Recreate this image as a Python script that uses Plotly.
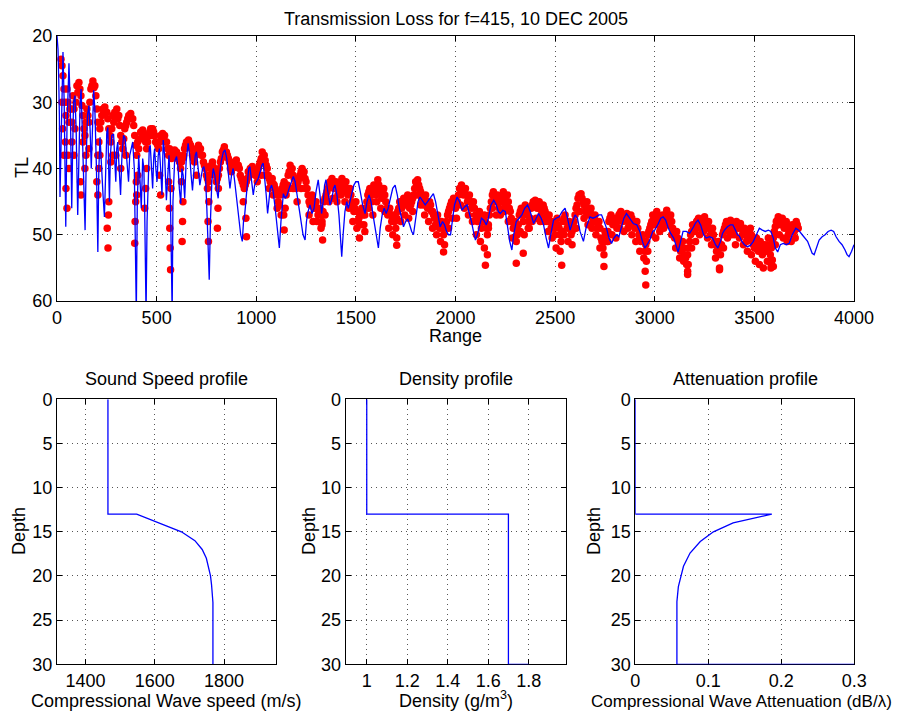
import plotly.graph_objects as go

# ---------------- data: transmission loss ----------------
blue_range = [0, 5, 8, 12, 15, 20, 25, 30, 36, 44, 50, 55, 60, 67, 74, 78, 83, 90, 96, 104,
              110, 116, 121, 128, 135, 141, 147, 153, 160, 166, 172, 178, 184, 190, 198, 205, 210, 216, 224, 231,
              238, 244, 250, 255, 260, 263, 268, 275, 284, 290, 295, 300, 305, 312, 319, 326, 334, 342, 350, 359,
              365, 372, 380, 388, 393, 398, 403, 410, 417, 423, 430, 436, 440, 444, 447, 452, 458, 463, 468, 474,
              480, 486, 490, 496, 502, 508, 514, 520, 527, 533, 540, 549, 556, 562, 568, 573, 578, 582, 590, 600,
              608, 614, 621, 627, 633, 641, 648, 658, 666, 673, 680, 688, 694, 700, 708, 717, 725, 731, 737, 745,
              752, 758, 764, 770, 777, 784, 792, 800, 809, 816, 824, 835, 843, 852, 860, 868, 876, 884, 892, 900,
              908, 915, 922, 930, 936, 942, 948, 955, 962, 968, 976, 985, 992, 1000, 1010, 1020, 1028, 1035, 1042, 1050,
              1057, 1064, 1070, 1077, 1085, 1095, 1105, 1116, 1124, 1130, 1136, 1145, 1155, 1165, 1175, 1186, 1195, 1205, 1215, 1225,
              1235, 1245, 1252, 1260, 1270, 1280, 1290, 1300, 1311, 1320, 1328, 1336, 1343, 1350, 1360, 1370, 1380, 1388, 1395, 1405,
              1415, 1422, 1429, 1436, 1445, 1454, 1462, 1470, 1480, 1490, 1500, 1512, 1522, 1534, 1546, 1556, 1566, 1576, 1586, 1598,
              1606, 1613, 1622, 1632, 1642, 1652, 1662, 1672, 1685, 1697, 1708, 1718, 1728, 1739, 1750, 1760, 1770, 1780, 1789, 1800,
              1812, 1822, 1835, 1848, 1860, 1872, 1889, 1900, 1912, 1923, 1935, 1945, 1955, 1965, 1975, 1985, 1995, 2008, 2020, 2033,
              2045, 2058, 2068, 2080, 2090, 2100, 2110, 2120, 2130, 2142, 2155, 2165, 2178, 2192, 2205, 2215, 2225, 2238, 2250, 2260,
              2272, 2283, 2292, 2305, 2318, 2333, 2347, 2362, 2375, 2392, 2405, 2417, 2430, 2442, 2455, 2467, 2478, 2492, 2505, 2520,
              2535, 2550, 2562, 2575, 2588, 2600, 2612, 2625, 2642, 2655, 2675, 2690, 2705, 2720, 2733, 2745, 2758, 2770, 2783, 2795,
              2808, 2820, 2832, 2845, 2858, 2872, 2892, 2910, 2925, 2938, 2950, 2962, 2975, 2990, 3000, 3015, 3030, 3042, 3055, 3068,
              3080, 3095, 3105, 3117, 3130, 3142, 3158, 3175, 3195, 3205, 3217, 3230, 3245, 3258, 3275, 3290, 3305, 3317, 3330, 3340,
              3350, 3365, 3380, 3392, 3405, 3415, 3425, 3437, 3450, 3465, 3480, 3495, 3510, 3525, 3540, 3555, 3570, 3583, 3595, 3605,
              3617, 3630, 3645, 3660, 3675, 3690, 3708, 3722, 3740, 3755, 3767, 3780, 3790, 3800, 3812, 3825, 3840, 3855, 3870, 3885,
              3898, 3910, 3925, 3940, 3955, 3965, 3975, 3988, 4000]
blue_tl = [20, 22, 25.5, 32, 44.3, 35, 26, 22.4, 30, 48.8, 34, 27, 24.1, 31, 46, 38, 30, 29, 34, 47,
           36, 30, 28, 35, 40, 49.3, 38, 32, 30.5, 34, 40, 33, 28.2, 31, 40, 52.6, 40, 35.3, 39, 44,
           47.3, 38, 34.5, 33.8, 40, 45, 38, 35, 34.8, 38, 42, 37, 36, 40, 44, 38, 35, 35.5, 39, 42,
           38, 37, 36, 40, 50, 62, 45, 38, 42, 46, 38.5, 40, 46, 52, 62, 48, 40, 37, 36.5, 40,
           43, 38, 37, 40, 42, 38, 37, 40, 44, 35.7, 38, 44.8, 40, 38, 42, 50, 62, 45, 39, 38.2,
           40, 43, 45.3, 40, 41, 44.5, 39, 36.2, 38, 41, 43.3, 40, 38, 37.5, 40, 42.5, 41, 40, 39.7, 41,
           46, 52, 56.8, 48, 42, 40, 41, 43, 44.5, 41, 39, 37.5, 37.2, 38.5, 41, 43, 41, 40, 42, 44,
           46, 48, 50, 51, 48, 47, 45, 42, 40, 39.7, 41.5, 44, 42.5, 42, 41.5, 40.5, 39.5, 39.2, 41, 44,
           46.8, 45, 43, 42.5, 43.5, 46, 49, 52, 48, 45, 43.8, 44.5, 44, 43, 42, 41.2, 42, 44, 46, 48.5,
           50, 50.8, 48, 46.5, 45.5, 46.8, 46, 43.5, 41.7, 44, 46.8, 45, 42.5, 41.7, 43.5, 45.5, 44.5, 43, 42.5, 44,
           47, 50, 53.3, 50, 46.5, 45, 46, 45, 43.5, 42.5, 42, 42, 43.5, 45.5, 46.8, 45, 44, 45, 47, 49.5,
           51, 52, 49, 47, 46, 46.8, 46, 44.5, 43, 42.5, 44, 46, 47.5, 48.8, 48, 47.6, 48.5, 49.5, 50, 47.5,
           45, 44.3, 45, 45.5, 45, 44.5, 43.8, 45, 47, 48.8, 48, 48.5, 49.5, 50, 50, 47.5, 45.5, 44.3, 45, 46.3,
           45.8, 45.5, 46.5, 48, 49.5, 50.8, 50, 48.5, 47.5, 47.8, 48.5, 47.5, 45.5, 44.8, 45.5, 46.5, 46.8, 46.3, 46.5, 48.5,
           51, 52.3, 50, 48, 47.5, 47, 46, 45.5, 46.5, 48.3, 47.5, 46.8, 47.5, 48.5, 50.5, 52, 50, 47.8, 47.5, 47.3,
           46.5, 46, 47.5, 49.3, 48, 47, 47.5, 49.5, 51, 49, 47.3, 47.5, 47.3, 47, 47, 48, 49, 50.5, 51.3, 50.5,
           50, 50.3, 49, 47.5, 46.8, 47.5, 48.3, 48.5, 49.5, 51, 52, 51.5, 50.8, 49.5, 49.3, 48.5, 47.5, 47.3, 47.8, 49,
           49.8, 50.5, 51.5, 52.6, 51, 49.5, 49.5, 49.8, 48.8, 48.2, 47.8, 48.5, 50, 50.5, 50.3, 50.5, 51.5, 52, 51, 49.8,
           49.3, 48.8, 48.5, 48.5, 49.3, 50, 50.2, 51, 51.5, 51.8, 51.6, 51, 50, 49, 49.3, 49.5, 49.3, 49.5, 50.5, 52,
           52.6, 51.5, 51.3, 51.5, 51.3, 50, 49, 49.3, 50, 50.5, 51, 52, 52.8, 53, 52, 50.8, 50.3, 50, 49.5, 49.3,
           49.5, 50.3, 51, 51.5, 52.3, 53, 53.3, 52.5, 51.5]

# measured TL (red dots), upper layer: one value every 10 range units from 20 to 3720
red_start, red_step = 20, 10
red_tl = [
    23.5, 26, 30, 28, 33, 31, 29, 34, 27.5, 27,
    29, 32, 35, 31, 33, 28, 26.8, 27.5, 31, 36,
    33, 31, 30.7, 31.5, 34, 36, 32, 31.5, 31, 32,
    35, 37, 34, 33, 32, 31.7, 32.5, 35, 38, 37,
    34.5, 34.2, 35, 37, 35, 34, 34, 35, 36, 37,
    35, 34.7, 35, 36, 38, 37.5, 38, 37.2, 37.5, 38,
    40, 38.5, 37, 36, 35.7, 36.5, 38, 39, 37, 36.5,
    37, 38, 39.5, 41, 42, 40, 39, 40.5, 42, 41,
    39, 37.5, 36.7, 37.5, 38.5, 40, 39.5, 39, 38.7, 39.5,
    41, 42, 43, 42, 40.5, 40, 39.7, 40.5, 41, 40,
    39, 37.5, 38, 39.5, 41, 42, 41.5, 42.5, 43.5, 45,
    44, 43, 42, 44, 41, 39.5, 40, 41.5, 43, 42,
    41, 40, 40.5, 42, 44, 45.5, 44, 46, 45, 47,
    46, 48, 45, 44, 43, 42, 41.5, 43, 42, 44,
    42.5, 41.5, 43.5, 42, 44, 43, 45, 46.5, 45, 48,
    47, 46, 48.5, 46, 44, 43, 45, 42.5, 44, 41.7,
    43, 44.5, 43, 45, 47, 46, 48, 47, 49, 46.5,
    45, 46, 44.5, 45.5, 44, 46, 45, 44, 42, 41.7,
    43, 44.5, 45.5, 44, 46, 45, 46.5, 47, 48.5, 47,
    49, 48, 50, 48.5, 47, 46, 45, 44.5, 46, 45,
    43, 42.5, 44, 43, 45, 44, 46, 45, 47, 48,
    46.5, 49, 47.5, 48, 50, 47, 45, 43.5, 45, 44,
    46, 44.5, 43.5, 45.5, 44, 46, 47.5, 49, 48, 50,
    47, 46, 48, 45.5, 47, 49, 46, 45, 44.8, 46,
    45, 47, 45.5, 46.5, 48, 47, 49, 48, 50, 47.5,
    49, 51, 48, 47, 49, 48, 50, 48.5, 47, 45.5,
    44, 43.8, 45, 46.5, 45, 47, 46, 48, 47, 49,
    48, 50.5, 52, 49.5, 51, 48, 47, 48.5, 47.5, 49,
    47, 46.5, 48, 47, 46.8, 48.5, 47, 48, 49, 48,
    50, 51, 50, 52.5, 51, 49.5, 48.5, 47, 48.5, 46.5,
    47.5, 49, 47, 48, 46.3, 48, 47, 49, 50.5, 49.5,
    51, 52.5, 51, 53, 54.5, 52, 50, 48.5, 49.5, 48,
    47.5, 49, 48, 47.3, 49, 48, 50, 49, 51, 52.5,
    51, 53, 50, 49, 48, 49.5, 47.8, 48.5, 50, 48,
    49, 48.3, 50, 49, 51, 50, 49, 51, 52, 50.5,
    52.5, 51, 53, 51.5, 52.5, 50.5, 53, 51, 49.5, 48,
    47.3, 48.5, 47.5, 49, 48, 50, 49, 48.5, 49.5, 48,
    49]

# measured TL, middle layer: one value every 10 range units from 25 to 3715
redm_start, redm_step = 25, 10
redm_tl = [
    24.5, 28, 32, 30, 31, 33, 31, 30, 28.5, 28,
    30.5, 34, 33, 32, 30, 27.5, 27.8, 29, 33, 34,
    32, 31.5, 31.5, 32.5, 35, 34, 33, 32, 32.5, 33.5,
    36, 35.5, 33.5, 32.5, 32, 32.5, 33.5, 36.5, 36, 35.5,
    35.5, 35.5, 36, 36, 34.5, 35, 34.5, 36, 36.5, 36,
    35.5, 35.5, 36, 37, 37, 38.5, 37.8, 38, 38.5, 39,
    39, 38, 36.5, 36.5, 36.2, 37, 38.5, 38, 37.5, 37.5,
    38, 39, 40, 41.5, 41, 39.5, 39.8, 41, 41.5, 40,
    38.5, 37.2, 37.5, 38, 39, 40.5, 39.5, 39.8, 39.5, 40,
    41.5, 42.5, 42.5, 41.5, 41, 40.5, 40.2, 41, 40.5, 39.5,
    38.5, 38.3, 38.8, 40, 41.5, 42.5, 42.3, 43, 44, 45.5,
    43.5, 42.5, 43, 42.5, 40.5, 40.3, 41, 42.5, 42.5, 41.5,
    40.5, 40.8, 41.5, 43, 45, 44.5, 45, 45.5, 46, 46.5,
    47, 46.5, 44.5, 43.5, 42.5, 42.3, 42.5, 42.7, 43, 43,
    42, 42.5, 42.8, 43, 43.5, 44, 45.5, 46, 46.5, 47.5,
    46.5, 47, 47, 45, 43.5, 44, 43.5, 43, 43, 42.5,
    43.8, 43.5, 44, 46, 46.5, 47, 47.5, 48, 47.5, 46,
    45.5, 45, 45, 44.5, 45, 45.5, 44.5, 43, 42.5, 42.5,
    43.5, 45, 44.5, 45, 45.5, 45.5, 46.5, 47.5, 47.5, 48,
    48.5, 49, 49, 48, 46.5, 45.5, 45, 45, 45.5, 44,
    43, 43.5, 43.5, 44, 44.5, 45, 45.5, 46, 47.5, 47,
    47.5, 48, 47, 49, 48.5, 46, 44, 44, 44.5, 45,
    45, 44, 44.5, 45, 45, 46.5, 48, 48.5, 49, 48.5,
    46.5, 47, 46.5, 46.5, 48, 47.5, 45.5, 45, 45.5, 45.5,
    46, 46.5, 46, 47, 47.5, 48, 48.5, 49, 48.5, 48.5,
    50, 49.5, 47.5, 48, 48.5, 49, 49.5, 48, 46, 44.5,
    44.2, 44.5, 45.5, 46, 46, 46.5, 47, 47.5, 48, 48.5,
    49, 51, 51, 50, 49.5, 47.5, 47.8, 48, 48, 48,
    46.8, 47.3, 47.5, 47.3, 47.8, 47.8, 47.5, 48.5, 48.5, 49,
    50.5, 50.5, 51, 51.5, 50, 49, 48, 47.8, 47.5, 47,
    48, 48, 47.5, 47, 47.2, 47.5, 48, 49.5, 50, 50.5,
    51.5, 52, 52, 53.5, 53, 51, 49.5, 49, 48.8, 47.8,
    48, 48.5, 47.8, 48, 48.5, 49, 49.5, 50, 51.5, 51.5,
    52, 51.5, 49.5, 48.5, 48.8, 48.5, 48.2, 49, 49, 48.5,
    48.8, 49, 49.5, 50, 50.5, 49.5, 50, 51.5, 51.5, 51.5,
    52, 52, 52.5, 52, 51.5, 52, 52, 50.5, 48.8, 47.8,
    47.8, 48, 48.3, 48.5, 49, 49.5, 48.8, 49, 48.8, 48.5]

# measured TL, lower layer: one value every 20 range units from 1005 to 3705
red2_start, red2_step = 1005, 20
red2_tl = [
    42, 41, 41, 43, 44, 46, 47, 46, 43, 43,
    45, 43, 43, 47, 48, 48, 49, 47, 45, 44.5,
    45, 44, 45, 46, 48, 49, 48.5, 49.5, 46, 47,
    45, 46, 46.5, 49, 50, 50.5, 48, 47, 47.5, 46.5,
    44, 45.5, 47, 48, 49, 50, 51, 51.5, 49, 47.5,
    47.5, 45.5, 46, 47, 48, 50, 51, 52, 49, 46,
    47, 47, 46.5, 48, 50.5, 51, 49.5, 50, 49, 48,
    47.5, 48, 48, 49.5, 50.5, 52, 52.5, 50, 51, 51.5,
    49, 46.5, 47.5, 48.5, 49, 50, 52, 53, 51, 50,
    50.5, 49, 49.5, 49, 50, 51, 52.5, 53.5, 52.5, 50,
    50.5, 49.5, 49, 48.5, 50, 52, 53.5, 54, 55.5, 52,
    51, 50, 49.5, 50.5, 51.5, 53.5, 55, 52, 50.5, 50,
    51.5, 50.5, 51.5, 52.5, 53, 54, 54.5, 55, 54, 54.5,
    51.5, 50, 50.5, 51, 51, 50.5]

# scattered low measured points (streaks into the nulls)
red3_range = [45, 50, 60, 118, 120, 140, 200, 205, 256, 252, 258, 260, 390, 392, 395, 398, 440, 445,
              570, 568, 566, 564, 572, 630, 628, 632, 760, 758, 762, 805, 808, 951, 948, 1140, 1138,
              1333, 1330, 1518, 1705, 1940, 2150, 2160, 2305, 2340, 2533, 2745, 2955, 2952, 2958,
              3165, 3168, 3325, 3583, 3590, 3595,
              25, 28, 35, 42, 55, 75, 85, 130, 145, 160, 205, 210, 215, 270, 280, 295, 320, 345,
              400, 405, 450, 515, 520, 560, 625, 700, 755, 810, 935]
red3_tl = [43, 46, 40, 42, 44, 40, 42, 38, 52, 49, 47, 45, 51.3, 48, 45, 42, 46, 43,
           55.3, 52, 49, 46, 43, 48, 51, 45, 51, 48, 45, 49, 46, 50.3, 47.5, 49.3, 47,
           50.8, 48.5, 50.5, 51.6, 52.6, 54.6, 53, 54.3, 52.8, 54.6, 54.8, 57.6, 55.5, 54,
           56, 54.5, 55.3, 55, 53.8, 54.8,
           30, 34, 38, 36, 38, 36, 38, 36, 38, 37, 44, 40, 38, 39, 38, 38, 40, 38,
           44, 41, 40, 41, 44, 42, 42, 41, 43, 43, 45]

# ---------------- data: environment profiles ----------------
ss_depth = [0, 13, 13, 14, 15, 16, 17, 18, 19, 20, 21, 22, 23, 30]
ss_speed = [1465, 1465, 1548, 1615, 1677, 1716, 1737, 1749, 1756, 1761, 1764, 1767, 1768, 1768]

den_depth = [0, 13, 13, 30, 30]
den_value = [1.0, 1.0, 1.7, 1.7, 1.8]

att_depth = [0, 13, 13, 14, 15, 16.1, 17.4, 18.9, 21.2, 22.9, 30, 30]
att_value = [0, 0, 0.187, 0.134, 0.107, 0.089, 0.075, 0.066, 0.059, 0.057, 0.057, 0.3]

title_main = "Transmission Loss for f=415, 10 DEC 2005"

# ---------------- figure ----------------
# the page body has an 8px margin, so the figure is offset by 8px in the window
OFF = 8
W, H = 906 - OFF, 713 - OFF
FONT = "Liberation Sans, Arial, sans-serif"
red_range = [red_start + red_step * i for i in range(len(red_tl))]
redm_range = [redm_start + redm_step * i for i in range(len(redm_tl))]
red2_range = [red2_start + red2_step * i for i in range(len(red2_tl))]

fig = go.Figure()
red_marker = dict(color="#ff0000", size=7.5, line=dict(width=0))
for xs, ys in [(red_range, red_tl), (redm_range, redm_tl), (red2_range, red2_tl), (red3_range, red3_tl)]:
    fig.add_trace(go.Scatter(x=xs, y=ys, mode="markers", marker=red_marker,
                             xaxis="x", yaxis="y", showlegend=False))
fig.add_trace(go.Scatter(x=blue_range, y=blue_tl, mode="lines", line=dict(color="#0000ff", width=1.3),
                         xaxis="x", yaxis="y", showlegend=False))

prof_line = dict(color="#0000ff", width=1.3)
fig.add_trace(go.Scatter(x=ss_speed, y=ss_depth, mode="lines", line=prof_line,
                         xaxis="x2", yaxis="y2", showlegend=False))
fig.add_trace(go.Scatter(x=den_value, y=den_depth, mode="lines", line=prof_line,
                         xaxis="x3", yaxis="y3", showlegend=False))
fig.add_trace(go.Scatter(x=att_value, y=att_depth, mode="lines", line=prof_line,
                         xaxis="x4", yaxis="y4", showlegend=False))


def ax(**kw):
    base = dict(showline=True, linecolor="black", linewidth=1, mirror="ticks",
                ticks="inside", ticklen=5, tickcolor="black", tickwidth=1,
                showgrid=True, gridcolor="#555555", griddash="1px,4px", gridwidth=1,
                zeroline=False, automargin=False, layer="below traces",
                tickfont=dict(size=18, color="black", family=FONT))
    base.update(kw)
    return base


def px_x(p):
    return (p - OFF) / W


def px_y(p):
    return 1 - (p - OFF) / H


top_y = [px_y(301), px_y(36)]
bot_y = [px_y(664.3), px_y(399.3)]

fig.update_layout(
    template="none",
    width=W, height=H,
    margin=dict(l=0, r=0, t=0, b=0, pad=0),
    paper_bgcolor="white", plot_bgcolor="white",
    font=dict(family=FONT, color="black", size=18),
    xaxis=ax(domain=[px_x(57), px_x(854)], range=[0, 4000], tickvals=[0, 500, 1000, 1500, 2000, 2500, 3000, 3500, 4000],
             anchor="y"),
    yaxis=ax(domain=top_y, range=[60, 20], tickvals=[20, 30, 40, 50, 60], anchor="x"),
    xaxis2=ax(domain=[px_x(57), px_x(276)], range=[1318, 1950], tickvals=[1400, 1600, 1800], anchor="y2"),
    yaxis2=ax(domain=bot_y, range=[30, 0], tickvals=[0, 5, 10, 15, 20, 25, 30], anchor="x2"),
    xaxis3=ax(domain=[px_x(345.7), px_x(565.7)], range=[0.896, 1.983], tickvals=[1, 1.2, 1.4, 1.6, 1.8],
              ticktext=["1", "1.2", "1.4", "1.6", "1.8"], anchor="y3"),
    yaxis3=ax(domain=bot_y, range=[30, 0], tickvals=[0, 5, 10, 15, 20, 25, 30], anchor="x3"),
    xaxis4=ax(domain=[px_x(635.3), px_x(854.3)], range=[0, 0.3], tickvals=[0, 0.1, 0.2, 0.3],
              ticktext=["0", "0.1", "0.2", "0.3"], anchor="y4"),
    yaxis4=ax(domain=bot_y, range=[30, 0], tickvals=[0, 5, 10, 15, 20, 25, 30], anchor="x4"),
)

ann = []


def label(text, x, y, size=18, angle=0):
    ann.append(dict(text=text, x=px_x(x), y=px_y(y), xref="paper", yref="paper",
                    showarrow=False, textangle=angle, xanchor="center", yanchor="middle",
                    font=dict(size=size, family=FONT, color="black")))


label(title_main, 456, 19)
label("Range", 455, 336)
label("TL", 22, 168, angle=-90)
label("Sound Speed profile", 166, 379)
label("Density profile", 456, 379)
label("Attenuation profile", 745, 379)
label("Depth", 19, 531, angle=-90)
label("Depth", 309, 531, angle=-90)
label("Depth", 594, 531, angle=-90)
label("Compressional Wave speed (m/s)", 166, 701)
label("Density (g/m<sup>3</sup>)", 456, 699)
label("Compressional Wave Attenuation (dB/λ)", 741, 701, size=17)
fig.update_layout(annotations=ann)

fig.write_html("out.html")
